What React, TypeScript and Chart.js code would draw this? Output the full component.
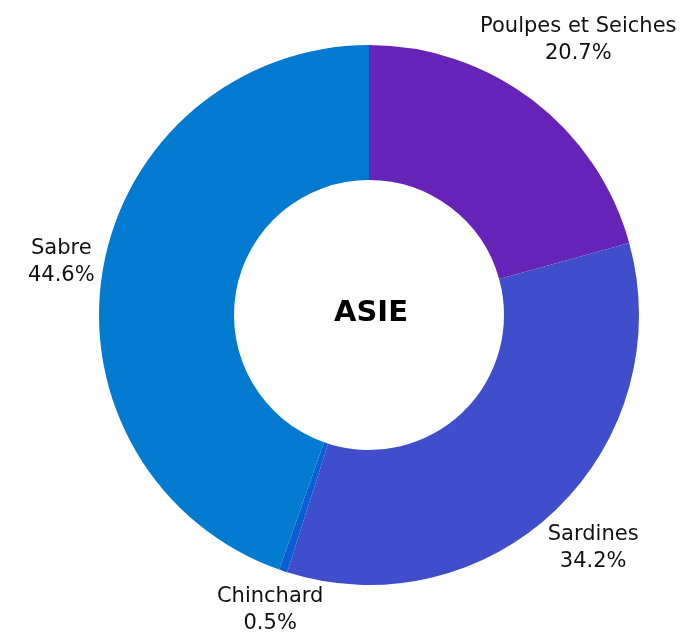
import React, { useEffect, useRef } from "react";
import { Chart, registerables } from "chart.js";

Chart.register(...registerables);

const categories = ["Poulpes et Seiches", "Sardines", "Chinchard", "Sabre"];
const shares = [20.7, 34.2, 0.5, 44.6];
const colors = ["#6623b7", "#404ecc", "#0c5fd2", "#027ad0"];
const centerTitle = "ASIE";

const FONT_FAMILY = "'DejaVu Sans', sans-serif";
const LABEL_SIZE = 21;
const LINE_H = 27;

const outsideLabels = {
  id: "outsideLabels",
  afterDraw(chart: any) {
    const ctx = chart.ctx;
    const meta = chart.getDatasetMeta(0);
    ctx.save();
    ctx.font = `${LABEL_SIZE}px ${FONT_FAMILY}`;
    ctx.fillStyle = "#111111";
    ctx.textAlign = "center";
    ctx.textBaseline = "middle";
    meta.data.forEach((arc: any, i: number) => {
      const p = arc.getProps(["x", "y", "startAngle", "endAngle", "outerRadius"], true);
      const mid = (p.startAngle + p.endAngle) / 2;
      const dx = Math.cos(mid);
      const dy = Math.sin(mid);
      const l1 = categories[i];
      const l2 = shares[i].toFixed(1) + "%";
      const w = Math.max(ctx.measureText(l1).width, ctx.measureText(l2).width);
      const hw = w / 2;
      const hh = 22.5;
      const target = p.outerRadius + 6;
      const rectDist = (t: number) => {
        const cx = t * dx;
        const cy = t * dy;
        const nx = Math.max(cx - hw, Math.min(0, cx + hw));
        const ny = Math.max(cy - hh, Math.min(0, cy + hh));
        return Math.sqrt(nx * nx + ny * ny);
      };
      let lo = 0;
      let hi = p.outerRadius * 3;
      for (let k = 0; k < 50; k++) {
        const m = (lo + hi) / 2;
        if (rectDist(m) < target) lo = m;
        else hi = m;
      }
      const cx = p.x + lo * dx;
      const cy = p.y + lo * dy;
      ctx.fillText(l1, cx, cy - LINE_H / 2);
      ctx.fillText(l2, cx, cy + LINE_H / 2);
    });
    const a0 = meta.data[0];
    ctx.font = `bold 29px ${FONT_FAMILY}`;
    ctx.fillStyle = "#000";
    ctx.fillText(centerTitle, a0.x + 2, a0.y - 2);
    ctx.restore();
  },
};

export default function App() {
  const ref = useRef<HTMLCanvasElement>(null);
  useEffect(() => {
    if (!ref.current) return;
    const chart = new Chart(ref.current, {
      type: "doughnut",
      data: {
        labels: categories,
        datasets: [
          {
            data: shares,
            backgroundColor: colors,
            borderColor: "#ffffff",
            borderWidth: 0,
          },
        ],
      },
      options: {
        animation: false,
        responsive: false,
        cutout: "50%",
        layout: { padding: { top: 45, bottom: 54, left: 99, right: 53 } },
        plugins: { legend: { display: false }, tooltip: { enabled: false } },
      },
      plugins: [outsideLabels],
    });
    return () => chart.destroy();
  }, []);
  return (
    <div style={{ position: "fixed", left: 0, top: 0, width: 692, height: 639, background: "#fff" }}>
      <canvas ref={ref} width={692} height={639} style={{ width: 692, height: 639 }} />
    </div>
  );
}
